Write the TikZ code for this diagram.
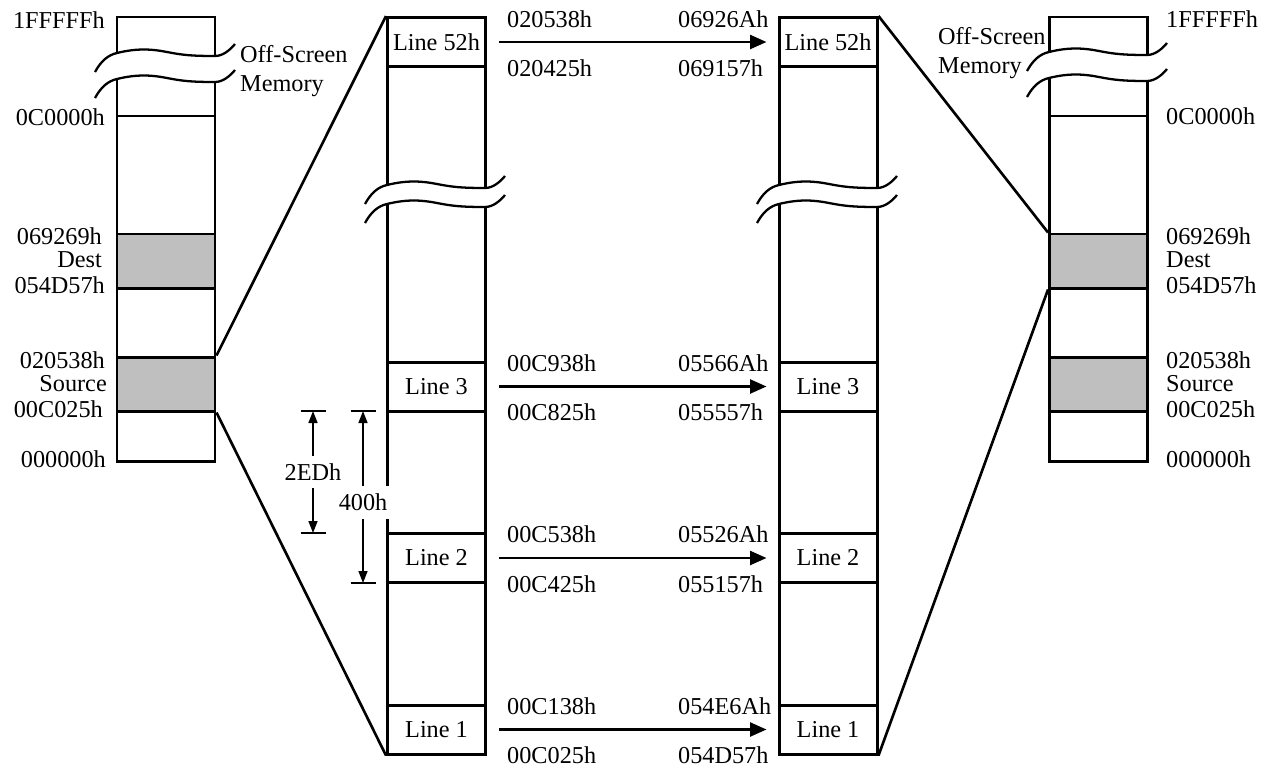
\documentclass[tikz,border=0pt]{standalone}
\usepackage{fontspec}
\setmainfont{Liberation Serif}
\usetikzlibrary{arrows.meta,positioning,calc}
\tikzset{
  mem/.style={draw,line width=1.7pt,minimum width=19.6mm,inner sep=0pt},
  linebox/.style={mem,minimum height=9.8mm},
  region/.style={mem,minimum height=10.8mm,fill=black!25},
  lbl/.style={inner sep=0.5pt},
  arr/.style={-{Triangle[length=3.3mm,width=2.8mm]},line width=1.4pt,shorten <=2.4mm,shorten >=2.2mm},
  zoomline/.style={line width=1.5pt},
  dim/.style={{Triangle[length=2.4mm,width=1.8mm]}-{Triangle[length=2.4mm,width=1.8mm]},line width=0.9pt},
  tick/.style={line width=0.9pt},
  tear/.style={line width=1.3pt}
}
% torn-off part of a memory column: #1 = left edge, #2 = top of tear, #3 = gap
\newcommand{\memtear}[3]{%
  \begin{scope}[shift={(#1,#2)}]
    \fill[white] (-3,0) -- (0,0) .. controls (20,-5) and (35,-4) .. (50,-1) .. controls (65,2) and (75,3) .. (98,3)
      -- (101,3) -- (101,3+#3) -- (98,3+#3) .. controls (75,3+#3) and (65,2+#3) .. (50,-1+#3)
      .. controls (35,-4+#3) and (20,-5+#3) .. (0,#3) -- (-3,#3) -- cycle;
    \foreach \g in {0,#3}
      \draw[tear] (-22,19+\g) .. controls (-16,8+\g) and (-9,2+\g) .. (0,\g)
        .. controls (20,-5+\g) and (35,-4+\g) .. (50,-1+\g)
        .. controls (65,2+\g) and (75,3+\g) .. (98,3+\g)
        .. controls (106,3+\g) and (113,-3+\g) .. (118,-9+\g);
  \end{scope}}

\begin{document}
\begin{tikzpicture}[x=0.2mm,y=-0.2mm,font=\fontsize{13.8}{16.5}\selectfont]
 \useasboundingbox (0,0) rectangle (1273,767);

 % whole memory, left and right
 \node[mem,minimum height=88.8mm] (lmem) at (166,239) {};
 \node[mem,minimum height=88.8mm] (rmem) at (1098.5,239) {};
 \draw[line width=1.7pt] (117,116) -- (215,116);
 \draw[line width=1.7pt] (1049,116) -- (1148,116);
 \node[region] (ldst) at (166,261) {};
 \node[region] (lsrc) at (166,384) {};
 \node[region] (rdst) at (1098.5,261) {};
 \node[region] (rsrc) at (1098.5,384) {};
 \memtear{117}{53}{26}
 \memtear{1049}{52}{26}

 % blown-up source and destination
 \node[mem,minimum height=147.4mm] (amem) at (436.5,385.5) {};
 \node[mem,minimum height=147.4mm] (bmem) at (828,385.5) {};
 \node[linebox] (a52) at (436.5,42) {Line 52h};
 \node[linebox] (a3) at (436.5,386.5) {Line 3};
 \node[linebox] (a2) at (436.5,558) {Line 2};
 \node[linebox] (a1) at (436.5,729.5) {Line 1};
 \node[linebox] (b52) at (828,42) {Line 52h};
 \node[linebox] (b3) at (828,386.5) {Line 3};
 \node[linebox] (b2) at (828,558) {Line 2};
 \node[linebox] (b1) at (828,729.5) {Line 1};
 \memtear{387}{185}{19}
 \memtear{779}{185}{19}

 \draw[zoomline] (lsrc.north east) -- (a52.north west);
 \draw[zoomline] (lsrc.south east) -- (amem.south west);
 \draw[zoomline] (b52.north east) -- (rdst.north west);
 \draw[zoomline] (bmem.south east) -- (rdst.south west);

 \draw[arr] (a52) -- (b52);
 \draw[arr] (a3) -- (b3);
 \draw[arr] (a2) -- (b2);
 \draw[arr] (a1) -- (b1);

 \node[lbl,anchor=west] at (506,19) {020538h};
 \node[lbl,anchor=west] at (506,68) {020425h};
 \node[lbl,anchor=west] at (677,19) {06926Ah};
 \node[lbl,anchor=west] at (677,68) {069157h};
 \node[lbl,anchor=west] at (506,363) {00C938h};
 \node[lbl,anchor=west] at (506,412) {00C825h};
 \node[lbl,anchor=west] at (677,363) {05566Ah};
 \node[lbl,anchor=west] at (677,412) {055557h};
 \node[lbl,anchor=west] at (506,534) {00C538h};
 \node[lbl,anchor=west] at (506,584) {00C425h};
 \node[lbl,anchor=west] at (677,534) {05526Ah};
 \node[lbl,anchor=west] at (677,584) {055157h};
 \node[lbl,anchor=west] at (506,706) {00C138h};
 \node[lbl,anchor=west] at (506,755) {00C025h};
 \node[lbl,anchor=west] at (677,706) {054E6Ah};
 \node[lbl,anchor=west] at (677,755) {054D57h};

 % addresses beside the whole memory
 \node[lbl,anchor=east] at (106,20) {1FFFFFh};
 \node[lbl,anchor=east] at (106,117) {0C0000h};
 \node[lbl,anchor=east] at (103,236) {069269h};
 \node[lbl,anchor=east] at (103,260) {Dest};
 \node[lbl,anchor=east] at (106,285) {054D57h};
 \node[lbl,anchor=east] at (106,360) {020538h};
 \node[lbl,anchor=east] at (108,384) {Source};
 \node[lbl,anchor=east] at (104,409) {00C025h};
 \node[lbl,anchor=east] at (107,459) {000000h};
 \node[lbl,anchor=west] at (1165,19) {1FFFFFh};
 \node[lbl,anchor=west] at (1165,116) {0C0000h};
 \node[lbl,anchor=west] at (1165,236) {069269h};
 \node[lbl,anchor=west] at (1165,260) {Dest};
 \node[lbl,anchor=west] at (1165,285) {054D57h};
 \node[lbl,anchor=west] at (1165,360) {020538h};
 \node[lbl,anchor=west] at (1165,384) {Source};
 \node[lbl,anchor=west] at (1165,409) {00C025h};
 \node[lbl,anchor=west] at (1165,459) {000000h};
 \node[lbl,align=left,anchor=base west] (loff) at (239,91) {Off-Screen\\Memory};
 \node[lbl,align=left,anchor=base west] (roff) at (937,73) {Off-Screen\\Memory};

 % line pitch
 \coordinate (e1) at (313,411);
 \coordinate (e2) at (313,533);
 \coordinate (f1) at (363,411);
 \coordinate (f2) at (363,583);
 \draw[dim] (e1) -- (e2) node[midway,fill=white,inner xsep=1pt,inner ysep=4.5pt] {2EDh};
 \draw[dim] (f1) -- (f2) node[pos=0.53,fill=white,inner xsep=1pt,inner ysep=4.5pt] {400h};
 \draw[tick] ([xshift=-2.5mm]e1) -- ([xshift=2.5mm]e1);
 \draw[tick] ([xshift=-2.5mm]e2) -- ([xshift=2.5mm]e2);
 \draw[tick] ([xshift=-2.5mm]f1) -- ([xshift=2.5mm]f1);
 \draw[tick] ([xshift=-2.5mm]f2) -- ([xshift=2.5mm]f2);
\end{tikzpicture}
\end{document}
